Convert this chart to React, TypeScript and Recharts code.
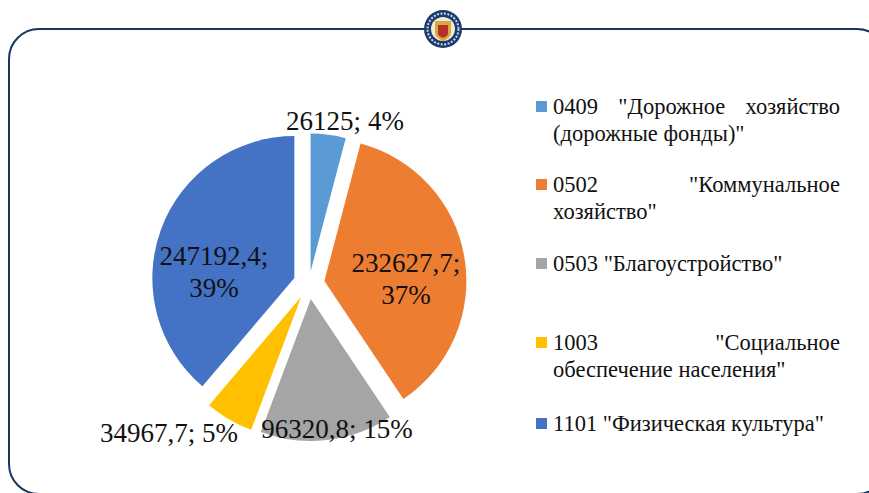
import { Pie, PieChart, Sector, Legend } from "recharts"

const categories = [
  '0409 "Дорожное хозяйство (дорожные фонды)"',
  '0502 "Коммунальное хозяйство"',
  '0503 "Благоустройство"',
  '1003 "Социальное обеспечение населения"',
  '1101 "Физическая культура"',
]
const values = [26125, 232627.7, 96320.8, 34967.7, 247192.4]
const percents = ["4%", "37%", "15%", "5%", "39%"]
const colors = ["#5b9bd5", "#ed7d31", "#a5a5a5", "#ffc000", "#4472c4"]

// label centre relative to the pie centre, two-line labels wrap after the value
const labelOffsets = [
  [36, -163],
  [97, -12],
  [28, 145],
  [-140, 149],
  [-95, -19],
]
const twoLine = [false, true, false, false, true]
const legendGaps = [0, 24, 25, 52, 27]
// the small top slice sits a bit closer in and is a bit shorter in the picture
const explodes = [12, 15.6, 15.6, 15.6, 15.6]
const radiusCuts = [4, 0, 0, 0, 0]

const CX = 309
const CY = 283.5
const RAD = Math.PI / 180
const SERIF = '"Liberation Serif", "Times New Roman", Times, serif'

const data = categories.map((name, i) => ({
  name,
  value: values[i],
  fill: colors[i],
  label: values[i].toString().replace(".", ","),
  percent: percents[i],
  labelOffset: labelOffsets[i],
  twoLine: twoLine[i],
  explode: explodes[i],
  radiusCut: radiusCuts[i],
}))

function ExplodedSlice(props: any) {
  const d = data[props.index]
  const dx = d.explode * Math.cos(-props.midAngle * RAD)
  const dy = d.explode * Math.sin(-props.midAngle * RAD)
  return (
    <Sector
      {...props}
      cx={props.cx + dx}
      cy={props.cy + dy}
      outerRadius={props.outerRadius - d.radiusCut}
      stroke="none"
    />
  )
}

function SliceLabel(props: any) {
  const d = data[props.index]
  const x = CX + d.labelOffset[0]
  const y = CY + d.labelOffset[1]
  const font = { fontFamily: SERIF, fontSize: 27, fill: "#111" }
  if (d.twoLine) {
    return (
      <text x={x} textAnchor="middle" {...font}>
        <tspan x={x} y={y}>{d.label};</tspan>
        <tspan x={x} y={y + 32}>{d.percent}</tspan>
      </text>
    )
  }
  return (
    <text x={x} y={y + 9} textAnchor="middle" {...font}>
      {d.label}; {d.percent}
    </text>
  )
}

function LegendList() {
  return (
    <div style={{ fontFamily: SERIF, fontSize: 22.5, lineHeight: "27px", color: "#111" }}>
      {data.map((d, i) => (
        <div key={d.name} style={{ marginTop: legendGaps[i], textAlign: "justify", paddingLeft: 17, position: "relative" }}>
          <span style={{ position: "absolute", left: 0, top: 8, width: 11, height: 11, background: d.fill }} />
          {d.name}
        </div>
      ))}
    </div>
  )
}

export default function App() {
  return (
    <div style={{ position: "absolute", left: 0, top: 0, width: 869, height: 493, overflow: "hidden", background: "#fff" }}>
      <svg width={869} height={493} style={{ position: "absolute", left: 0, top: 0 }}>
        <rect x={9} y={29} width={878} height={465} rx={30} fill="none" stroke="#17375e" strokeWidth={2} />
        <circle cx={443} cy={29} r={19} fill="#1b3a70" />
        <circle cx={443} cy={29} r={15.5} fill="none" stroke="#cfd6e4" strokeWidth={2} strokeDasharray="2 1.5" />
        <circle cx={443} cy={29} r={12} fill="#f1ead8" />
        <path d="M435 21h16v11c0 5-4 7-8 9-4-2-8-4-8-9z" fill="#d9a93a" />
        <path d="M438 25h10v8c0 3-3 4-5 5-2-1-5-2-5-5z" fill="#b5322c" />
      </svg>
      <PieChart width={869} height={493} margin={{ top: 0, right: 0, bottom: 0, left: 0 }} style={{ position: "absolute", left: 0, top: 0 }}>
        <Pie
          data={data}
          dataKey="value"
          cx={CX}
          cy={CY}
          outerRadius={142}
          startAngle={90}
          endAngle={-270}
          isAnimationActive={false}
          shape={ExplodedSlice}
          label={SliceLabel}
          labelLine={false}
        />
        <Legend
          layout="vertical"
          content={<LegendList />}
          wrapperStyle={{ position: "absolute", left: 536, top: 93, width: 304, bottom: "auto" }}
        />
      </PieChart>
    </div>
  )
}
